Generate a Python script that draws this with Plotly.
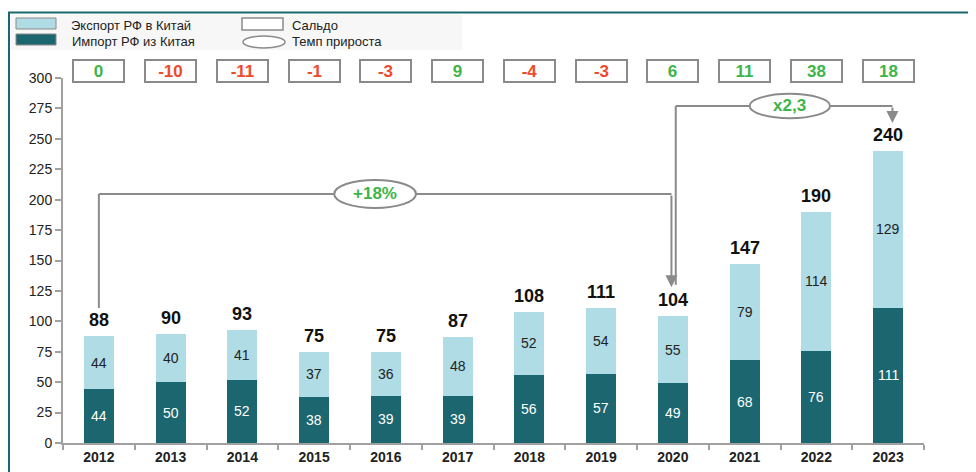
import plotly.graph_objects as go

years = ["2012", "2013", "2014", "2015", "2016", "2017", "2018", "2019", "2020", "2021", "2022", "2023"]
imports = [44, 50, 52, 38, 39, 39, 56, 57, 49, 68, 76, 111]
exports = [44, 40, 41, 37, 36, 48, 52, 54, 55, 79, 114, 129]
totals = [88, 90, 93, 75, 75, 87, 108, 111, 104, 147, 190, 240]
saldo = [0, -10, -11, -1, -3, 9, -4, -3, 6, 11, 38, 18]
growth_labels = ["+18%", "x2,3"]

OFF = 8  # browser body margin
W, H = 976 - OFF, 472 - OFF
L, R, T, B = 63 - OFF, 52, 78 - OFF, 29
PW, PH = W - L - R, H - T - B

def px(x):
    # screen pixel x -> paper
    return (x - OFF - L) / PW

def py(y):
    # screen pixel y -> paper
    return (H - B - (y - OFF)) / PH

LIGHT = "#b0dce6"
DARK = "#1c6670"
GREEN = "#3cb54a"
RED = "#f04a2a"
GREY = "#8a8a8a"
FONT = "Arial, Liberation Sans, sans-serif"

fig = go.Figure()
fig.add_trace(go.Bar(x=years, y=imports, name="Импорт РФ из Китая", marker_color=DARK, marker_line_width=0))
fig.add_trace(go.Bar(x=years, y=exports, name="Экспорт РФ в Китай", marker_color=LIGHT, marker_line_width=0))

annotations = []
shapes = []

# segment labels (placed at segment midpoints)
for i, (im, ex) in enumerate(zip(imports, exports)):
    annotations.append(dict(x=i, y=im / 2, xref="x", yref="y", text=str(im), showarrow=False,
                            font=dict(size=14, color="white", family=FONT)))
    annotations.append(dict(x=i, y=im + ex / 2, xref="x", yref="y", text=str(ex), showarrow=False,
                            font=dict(size=14, color="#222", family=FONT)))

# totals
for i, t in enumerate(totals):
    annotations.append(dict(x=i, y=t, xref="x", yref="y", text=f"<b>{t}</b>", showarrow=False,
                            yanchor="bottom", yshift=4, font=dict(size=18, color="#111", family=FONT)))

# saldo boxes
for i, s in enumerate(saldo):
    annotations.append(dict(x=i, y=py(71), xref="x", yref="paper", yanchor="middle", text=f"<b>{s}</b>",
                            showarrow=False, width=47, height=18, borderpad=1, borderwidth=2, bordercolor=GREY,
                            bgcolor="white", font=dict(size=17, color=GREEN if s >= 0 else RED, family=FONT)))

# connector lines (data coords: category index, value)
y18 = 204.7
yx = 277
lc = dict(color=GREY, width=2)
shapes += [
    dict(type="line", xref="x", yref="y", x0=0, x1=0, y0=111, y1=y18, line=lc),
    dict(type="line", xref="x", yref="y", x0=0, x1=7.98, y0=y18, y1=y18, line=lc),
    dict(type="line", xref="x", yref="y", x0=8.04, x1=8.04, y0=130, y1=yx, line=lc),
    dict(type="line", xref="x", yref="y", x0=8.04, x1=11.06, y0=yx, y1=yx, line=lc),
]
annotations += [
    dict(x=7.98, y=128, xref="x", yref="y", ax=7.98, ay=y18, axref="x", ayref="y", text="",
         showarrow=True, arrowhead=2, arrowsize=1.2, arrowwidth=2, arrowcolor=GREY),
    dict(x=11.06, y=263, xref="x", yref="y", ax=11.06, ay=yx, axref="x", ayref="y", text="",
         showarrow=True, arrowhead=2, arrowsize=1.2, arrowwidth=2, arrowcolor=GREY),
]
# ellipses
shapes += [
    dict(type="circle", xref="x", yref="y", x0=3.85 - 0.57, x1=3.85 + 0.57, y0=y18 - 11.5, y1=y18 + 11.5,
         line=dict(color=GREY, width=2), fillcolor="white"),
    dict(type="circle", xref="x", yref="y", x0=9.63 - 0.56, x1=9.63 + 0.56, y0=yx - 10, y1=yx + 10,
         line=dict(color=GREY, width=2), fillcolor="white"),
]
annotations += [
    dict(x=3.85, y=y18, xref="x", yref="y", text=f"<b>{growth_labels[0]}</b>", showarrow=False,
         font=dict(size=17, color=GREEN, family=FONT)),
    dict(x=9.63, y=yx, xref="x", yref="y", text=f"<b>{growth_labels[1]}</b>", showarrow=False,
         font=dict(size=17, color=GREEN, family=FONT)),
]

# frame
shapes += [
    dict(type="line", xref="paper", yref="paper", x0=px(9), x1=px(9), y0=py(12), y1=py(472), line=dict(color=DARK, width=2)),
    dict(type="line", xref="paper", yref="paper", x0=px(8), x1=px(976), y0=py(12.5), y1=py(12.5), line=dict(color=DARK, width=2)),
]

# legend
shapes += [
    dict(type="rect", xref="paper", yref="paper", x0=px(11), x1=px(462), y0=py(50), y1=py(15), fillcolor="#f7f7f7", line_width=0, layer="below"),
    dict(type="rect", xref="paper", yref="paper", x0=px(16), x1=px(56), y0=py(29), y1=py(18), fillcolor=LIGHT, line=dict(color=GREY, width=1)),
    dict(type="rect", xref="paper", yref="paper", x0=px(16), x1=px(56), y0=py(45), y1=py(34), fillcolor=DARK, line=dict(color=GREY, width=1)),
    dict(type="rect", xref="paper", yref="paper", x0=px(242), x1=px(283), y0=py(30), y1=py(18), fillcolor="white", line=dict(color=GREY, width=1.5)),
    dict(type="circle", xref="paper", yref="paper", x0=px(243), x1=px(285), y0=py(48), y1=py(36), fillcolor="white", line=dict(color=GREY, width=1.5)),
]
leg_font = dict(size=13, color="#222", family=FONT)
annotations += [
    dict(x=px(69), y=py(25), xref="paper", yref="paper", text="Экспорт РФ в Китай", showarrow=False,
         xanchor="left", yanchor="middle", font=leg_font),
    dict(x=px(70), y=py(41), xref="paper", yref="paper", text="Импорт РФ из Китая", showarrow=False,
         xanchor="left", yanchor="middle", font=leg_font),
    dict(x=px(290), y=py(25), xref="paper", yref="paper", text="Сальдо", showarrow=False,
         xanchor="left", yanchor="middle", font=leg_font),
    dict(x=px(290), y=py(41), xref="paper", yref="paper", text="Темп прироста", showarrow=False,
         xanchor="left", yanchor="middle", font=leg_font),
]

fig.update_layout(
    width=W, height=H, barmode="stack", bargap=0.58,
    margin=dict(l=L, r=R, t=T, b=B, autoexpand=False),
    paper_bgcolor="white", plot_bgcolor="white", showlegend=False,
    font=dict(family=FONT, color="#222"),
    shapes=shapes, annotations=annotations,
)
fig.update_xaxes(type="category", range=[-0.5, len(years) - 0.5], autorange=False,
                 showline=True, linecolor="#a0a0a0", linewidth=2,
                 ticks="outside", tickson="boundaries", ticklen=5, tickcolor="#a0a0a0", tickwidth=2,
                 tickfont=dict(size=14, color="#222", family=FONT),
                 tickprefix="<b>", ticksuffix="</b>", showgrid=False)
fig.update_yaxes(range=[0, 300], dtick=25, showline=True, linecolor="#a0a0a0", linewidth=2,
                 ticks="outside", ticklen=6, tickcolor="#a0a0a0", tickwidth=2,
                 tickfont=dict(size=14, color="#222"), showgrid=False, zeroline=False)

fig.write_html("out.html")
